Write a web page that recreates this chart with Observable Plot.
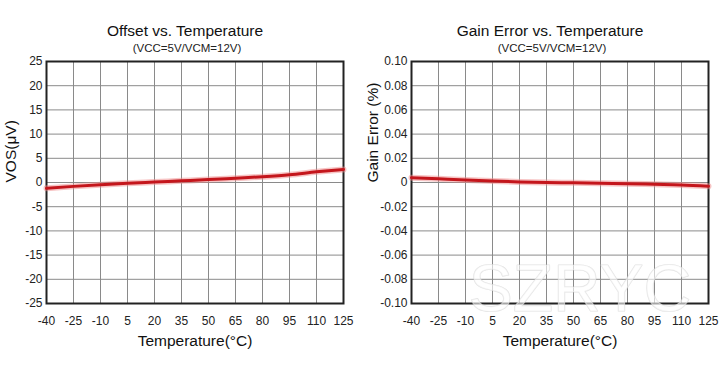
<!DOCTYPE html>
<html>
<head>
<meta charset="utf-8">
<script src="https://cdn.jsdelivr.net/npm/d3@7"></script>
<script src="https://cdn.jsdelivr.net/npm/@observablehq/plot@0.6"></script>
<style>
  html, body { margin: 0; padding: 0; background: #fff; }
  #wrap { display: flex; width: 720px; height: 365px; }
</style>
</head>
<body>
<div id="wrap"></div>
<script>
const temps = [-40, -25, -10, 5, 20, 35, 50, 65, 80, 95, 110, 125];
const vos = [-1.2, -0.8, -0.45, -0.15, 0.1, 0.35, 0.6, 0.9, 1.2, 1.6, 2.2, 2.7];
const gainErr = [0.004, 0.003, 0.002, 0.0012, 0.0005, 0.0, -0.0003, -0.0007, -0.001, -0.0015, -0.002, -0.003];
const xTicks = [-40, -25, -10, 5, 20, 35, 50, 65, 80, 95, 110, 125];
const yTicksLeft = [-25, -20, -15, -10, -5, 0, 5, 10, 15, 20, 25];
const yTicksRight = [-0.10, -0.08, -0.06, -0.04, -0.02, 0, 0.02, 0.04, 0.06, 0.08, 0.10];

const font = "'Liberation Sans', Arial, Helvetica, sans-serif";

function panel({title, subtitle, yLabel, values, yDomain, yTicks, yFmt, marginLeft, marginRight, yLabelDx, extra = []}) {
  const data = temps.map((t, i) => ({t, v: values[i]}));
  return Plot.plot({
    width: 360, height: 365,
    marginLeft, marginRight, marginTop: 61, marginBottom: 62,
    style: {fontFamily: font, fontSize: "12px", color: "#222", background: "#fff", overflow: "visible"},
    x: {domain: [-40, 125], ticks: xTicks, tickSize: 0, tickPadding: 13, label: null, tickFormat: d => String(d)},
    y: {domain: yDomain, ticks: yTicks, tickSize: 0, tickPadding: 4, label: null, tickFormat: yFmt},
    marks: [
      Plot.gridX(xTicks, {stroke: "#8a8a8a", strokeOpacity: 1, strokeWidth: 1}),
      Plot.gridY(yTicks, {stroke: "#8a8a8a", strokeOpacity: 1, strokeWidth: 1}),
      Plot.frame({stroke: "#222", strokeWidth: 2}),
      Plot.line(data, {x: "t", y: "v", stroke: "#ef8a8a", strokeWidth: 6, strokeOpacity: 0.5, curve: "monotone-x"}),
      Plot.line(data, {x: "t", y: "v", stroke: "#c4161c", strokeWidth: 3, curve: "monotone-x"}),
      ...extra,
      Plot.text([title], {text: d => d, frameAnchor: "top", dy: -37, dx: -10, fontSize: 15.5, fill: "#111"}),
      Plot.text([subtitle], {text: d => d, frameAnchor: "top", dy: -18, dx: -8, fontSize: 11.5, fill: "#222"}),
      Plot.text(["Temperature(°C)"], {text: d => d, frameAnchor: "bottom", dy: 42, fontSize: 15.5, fill: "#111"}),
      Plot.text([yLabel], {text: d => d, frameAnchor: "left", dx: yLabelDx, rotate: -90, fontSize: 15.5, fill: "#111"})
    ]
  });
}

const wrap = document.getElementById("wrap");
wrap.appendChild(panel({
  title: "Offset vs. Temperature",
  subtitle: "(VCC=5V/VCM=12V)",
  yLabel: "VOS(μV)",
  values: vos,
  yDomain: [-25, 25],
  yTicks: yTicksLeft,
  yFmt: d => String(d),
  marginLeft: 46, marginRight: 17,
  yLabelDx: -35
}));
wrap.appendChild(panel({
  title: "Gain Error vs. Temperature",
  subtitle: "(VCC=5V/VCM=12V)",
  yLabel: "Gain Error (%)",
  values: gainErr,
  yDomain: [-0.10, 0.10],
  yTicks: yTicksRight,
  yFmt: d => Math.abs(d) < 1e-9 ? "0" : d.toFixed(2),
  marginLeft: 51, marginRight: 12,
  yLabelDx: -38,
  extra: [
    Plot.text(["SZRYC"], {text: d => d, frameAnchor: "bottom", dx: 20, dy: 7, fontSize: 66,
      fill: "#fff", fillOpacity: 0.6, stroke: "#d0d0d0", strokeWidth: 1.2, strokeOpacity: 0.6})
  ]
}));
</script>
</body>
</html>
